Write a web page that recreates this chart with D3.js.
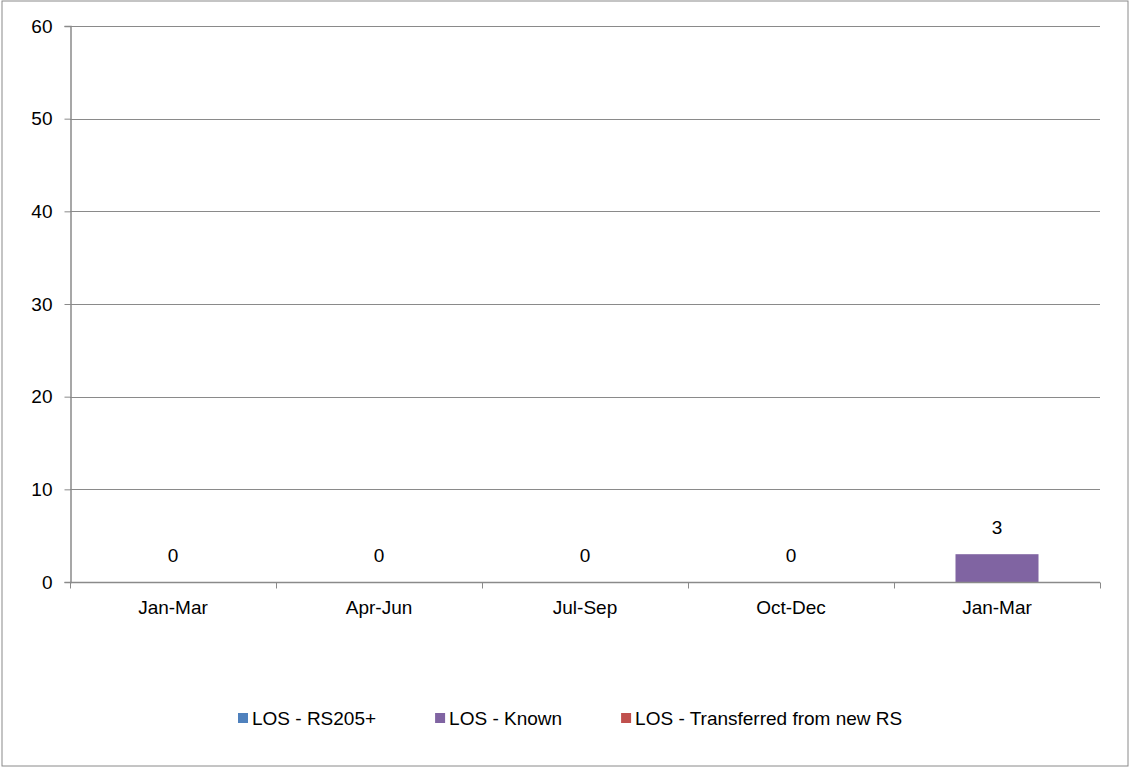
<!DOCTYPE html>
<html>
<head>
<meta charset="utf-8">
<script src="https://d3js.org/d3.v7.min.js"></script>
<style>
  html, body { margin: 0; padding: 0; background: #fff; }
  text { font-family: "Liberation Sans", Arial, sans-serif; fill: #000; }
</style>
</head>
<body>
<svg id="chart" width="1129" height="767"></svg>
<script>
const categories = ["Jan-Mar", "Apr-Jun", "Jul-Sep", "Oct-Dec", "Jan-Mar"];
const seriesNames = ["LOS - RS205+", "LOS - Known", "LOS - Transferred from new RS"];
const seriesColors = ["#4f81bd", "#8064a2", "#c0504d"];
const rs205 = [0, 0, 0, 0, 0];
const known = [0, 0, 0, 0, 3];
const transferred = [0, 0, 0, 0, 0];
const labelValues = [0, 0, 0, 0, 3];
const yTicks = [0, 10, 20, 30, 40, 50, 60];

const svg = d3.select("#chart");
const W = 1129, H = 767;
const plot = { left: 70, right: 1100, top: 26, bottom: 582 };
const gridColor = "#8a8a8a";
const fs = 19;

// outer border
svg.append("rect").attr("x", 2).attr("y", 1).attr("width", 1126).attr("height", 765)
  .attr("fill", "#fff").attr("stroke", "#8a8a8a").attr("stroke-width", 1);

const idx = categories.map((d, i) => i);
const x = d3.scaleBand().domain(idx).range([plot.left, plot.right]).paddingInner(0.597).paddingOuter(0.597 / 2);
const y = d3.scaleLinear().domain([0, 60]).range([plot.bottom, plot.top]);

// gridlines
svg.append("g").selectAll("line").data(yTicks.filter(t => t > 0)).join("line")
  .attr("x1", plot.left).attr("x2", plot.right)
  .attr("y1", d => Math.round(y(d)) + 0.5).attr("y2", d => Math.round(y(d)) + 0.5)
  .attr("stroke", gridColor).attr("stroke-width", 1);

// stacked data
const rows = idx.map(i => ({ i, s0: rs205[i], s1: known[i], s2: transferred[i] }));
const stack = d3.stack().keys(["s0", "s1", "s2"])(rows);
svg.append("g").selectAll("g").data(stack).join("g")
  .attr("fill", (d, k) => seriesColors[k])
  .selectAll("rect").data(d => d).join("rect")
  .attr("x", d => x(d.data.i))
  .attr("width", x.bandwidth())
  .attr("y", d => y(d[1]))
  .attr("height", d => y(d[0]) - y(d[1]));

// y axis
const yAxis = d3.axisLeft(y).tickValues(yTicks).tickSize(6).tickPadding(12).tickFormat(d3.format("d"));
const gy = svg.append("g").attr("transform", `translate(${plot.left + 0.5},0)`).call(yAxis);
gy.select(".domain").attr("stroke", gridColor).attr("stroke-width", 1.5);
gy.selectAll(".tick line").attr("stroke", gridColor);
gy.selectAll(".tick text").attr("font-size", fs).attr("font-family", "Liberation Sans, Arial, sans-serif").attr("fill", "#000");

// x axis (baseline + boundary ticks)
const xAxisY = Math.round(y(0)) + 0.5;
svg.append("line").attr("x1", plot.left).attr("x2", plot.right).attr("y1", xAxisY).attr("y2", xAxisY)
  .attr("stroke", gridColor).attr("stroke-width", 1.5);
const bounds = idx.map(i => x(i) - x.step() * x.paddingInner() / 2).concat([plot.right]);
svg.append("g").selectAll("line").data(bounds).join("line")
  .attr("x1", d => Math.round(d) + 0.5).attr("x2", d => Math.round(d) + 0.5)
  .attr("y1", xAxisY).attr("y2", xAxisY + 6)
  .attr("stroke", gridColor).attr("stroke-width", 1);
svg.append("g").selectAll("text").data(idx).join("text")
  .attr("x", i => x(i) + x.bandwidth() / 2)
  .attr("y", 607).attr("dy", "0.35em")
  .attr("text-anchor", "middle").attr("font-size", fs)
  .text(i => categories[i]);

// data labels
svg.append("g").selectAll("text").data(idx).join("text")
  .attr("x", i => x(i) + x.bandwidth() / 2)
  .attr("y", i => y(rs205[i] + known[i] + transferred[i]) - 27).attr("dy", "0.35em")
  .attr("text-anchor", "middle").attr("font-size", fs)
  .text(i => labelValues[i]);

// legend
const lg = svg.append("g");
let lx = 238;
seriesNames.forEach((name, k) => {
  lg.append("rect").attr("x", lx).attr("y", 713).attr("width", 10).attr("height", 10).attr("fill", seriesColors[k]);
  const t = lg.append("text").attr("x", lx + 14).attr("y", 718).attr("dy", "0.35em")
    .attr("font-size", fs).text(name);
  const w = t.node().getComputedTextLength();
  lx = lx + 14 + w + 59;
});
</script>
</body>
</html>
